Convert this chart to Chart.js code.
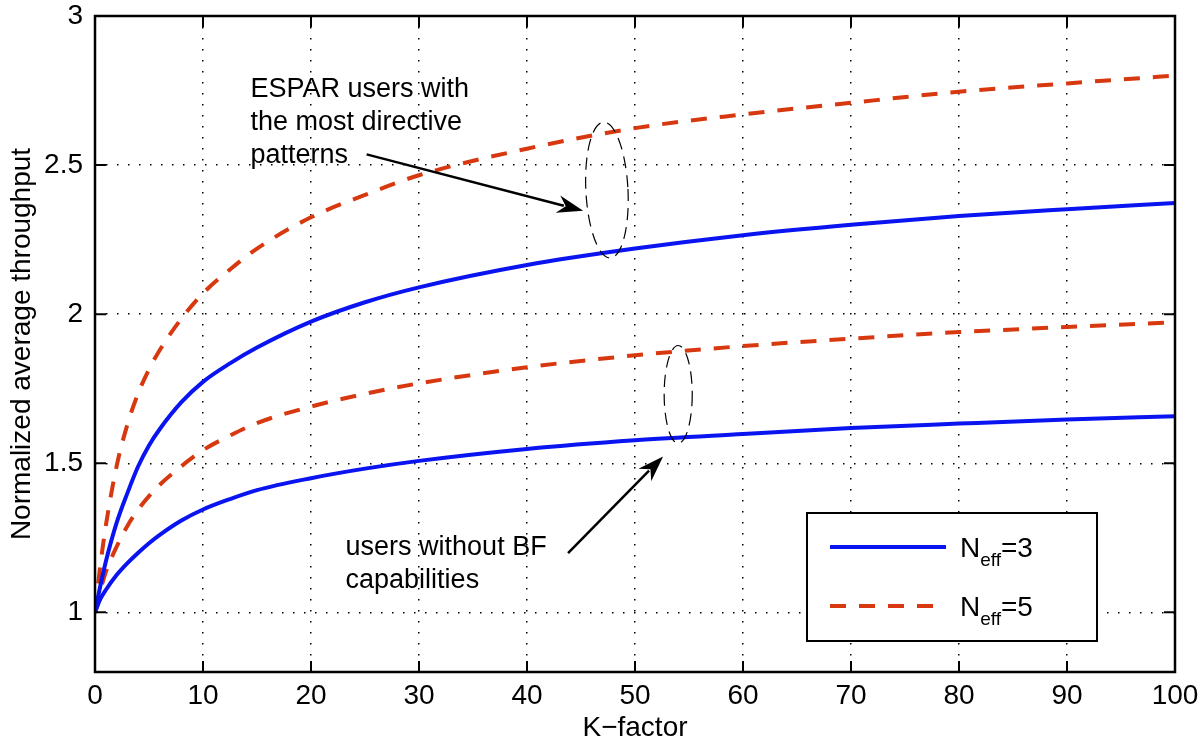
<!DOCTYPE html>
<html>
<head>
<meta charset="utf-8">
<script src="https://cdn.jsdelivr.net/npm/chart.js@4.4.0/dist/chart.umd.min.js"></script>
<style>
  html, body { margin: 0; padding: 0; background: #fff; }
  #wrap { width: 1200px; height: 747px; }
</style>
</head>
<body>
<div id="wrap"><canvas id="myChart" width="1200" height="747"></canvas></div>
<script>
// K-factor sample points (shared by all curves)
const kFactor = [0, 0.5, 1, 2, 3, 4, 5, 6, 8, 10, 12.5, 15, 20, 25, 30, 40, 50, 60, 70, 80, 90, 100];

// ESPAR users with the most directive patterns
const esparN3 = [1.0, 1.09, 1.17, 1.30, 1.40, 1.49, 1.56, 1.615, 1.705, 1.773, 1.835, 1.888, 1.975, 2.04, 2.09, 2.165, 2.22, 2.265, 2.30, 2.329, 2.352, 2.373];
const esparN5 = [1.0, 1.16, 1.29, 1.49, 1.63, 1.735, 1.815, 1.88, 1.985, 2.07, 2.15, 2.22, 2.325, 2.40, 2.466, 2.555, 2.624, 2.67, 2.709, 2.746, 2.774, 2.80];

// users without BF capabilities
const noBfN3 = [1.0, 1.045, 1.075, 1.125, 1.165, 1.20, 1.232, 1.26, 1.308, 1.345, 1.38, 1.41, 1.45, 1.482, 1.508, 1.548, 1.577, 1.598, 1.618, 1.633, 1.647, 1.658];
const noBfN5 = [1.0, 1.075, 1.135, 1.22, 1.29, 1.345, 1.39, 1.428, 1.49, 1.544, 1.593, 1.635, 1.69, 1.733, 1.768, 1.822, 1.862, 1.893, 1.918, 1.94, 1.957, 1.973];

const xTicks = [0, 10, 20, 30, 40, 50, 60, 70, 80, 90, 100];
const yTicks = [1, 1.5, 2, 2.5, 3];

const BLUE = "#0a14f0";
const RED = "#d8380f";
const FONT = "'Liberation Sans', Arial, Helvetica, sans-serif";

const toPoints = (ys) => kFactor.map((k, i) => ({ x: k, y: ys[i] }));

const solid = { borderColor: BLUE, backgroundColor: BLUE, borderWidth: 4, pointRadius: 0, fill: false, cubicInterpolationMode: "monotone" };
const dashed = { borderColor: RED, backgroundColor: RED, borderWidth: 4, borderDash: [16, 13], pointRadius: 0, fill: false, cubicInterpolationMode: "monotone" };

// annotation text and callouts, placed in data units
const esparNote = { k: 14.4, v: 2.727, lines: ["ESPAR users with", "the most directive", "patterns"] };
const noBfNote = { k: 23.2, v: 1.191, lines: ["users without BF", "capabilities"] };
const arrows = [
	{ from: [25.15, 2.536], to: [45.2, 2.347] },
	{ from: [43.8, 1.199], to: [52.6, 1.523] },
];
const ellipses = [
	{ k: 47.4, v: 2.416, rk: 1.95, rv: 0.228, rot: -0.05 },
	{ k: 54.0, v: 1.731, rk: 1.3, rv: 0.164, rot: 0 },
];
const legendItems = [
	{ color: BLUE, dash: [], sub: "eff", value: "=3" },
	{ color: RED, dash: [16, 13], sub: "eff", value: "=5" },
];

const matlabLook = {
	id: "matlabLook",
	afterDatasetsDraw(chart) {
		const { ctx, chartArea: a, scales: { x, y } } = chart;
		ctx.save();

		// inward ticks on all four sides
		ctx.strokeStyle = "#000";
		ctx.lineWidth = 2;
		ctx.beginPath();
		xTicks.forEach((t) => {
			const px = x.getPixelForValue(t);
			ctx.moveTo(px, a.bottom); ctx.lineTo(px, a.bottom - 11);
			ctx.moveTo(px, a.top); ctx.lineTo(px, a.top + 11);
		});
		yTicks.forEach((t) => {
			const py = y.getPixelForValue(t);
			ctx.moveTo(a.left, py); ctx.lineTo(a.left + 11, py);
			ctx.moveTo(a.right, py); ctx.lineTo(a.right - 11, py);
		});
		ctx.stroke();

		// axes box
		ctx.lineWidth = 2.5;
		ctx.strokeRect(a.left, a.top, a.right - a.left, a.bottom - a.top);

		// dashed ellipses
		ctx.lineWidth = 1.2;
		ctx.setLineDash([12, 7]);
		ellipses.forEach((e) => {
			const cx = x.getPixelForValue(e.k), cy = y.getPixelForValue(e.v);
			const rx = x.getPixelForValue(e.k + e.rk) - cx;
			const ry = cy - y.getPixelForValue(e.v + e.rv);
			ctx.beginPath();
			ctx.ellipse(cx, cy, rx, ry, e.rot, 0, Math.PI * 2);
			ctx.stroke();
		});
		ctx.setLineDash([]);

		// arrows
		ctx.lineWidth = 2.5;
		ctx.fillStyle = "#000";
		arrows.forEach((ar) => {
			const x0 = x.getPixelForValue(ar.from[0]), y0 = y.getPixelForValue(ar.from[1]);
			const x1 = x.getPixelForValue(ar.to[0]), y1 = y.getPixelForValue(ar.to[1]);
			const ang = Math.atan2(y1 - y0, x1 - x0);
			const len = 26, half = 9;
			const bx = x1 - len * Math.cos(ang), by = y1 - len * Math.sin(ang);
			ctx.beginPath();
			ctx.moveTo(x0, y0);
			ctx.lineTo(bx + 6 * Math.cos(ang), by + 6 * Math.sin(ang));
			ctx.stroke();
			ctx.beginPath();
			ctx.moveTo(x1, y1);
			ctx.lineTo(bx - half * Math.sin(ang), by + half * Math.cos(ang));
			ctx.lineTo(bx + 8 * Math.cos(ang), by + 8 * Math.sin(ang));
			ctx.lineTo(bx + half * Math.sin(ang), by - half * Math.cos(ang));
			ctx.closePath();
			ctx.fill();
		});

		// annotation text
		ctx.font = "27px " + FONT;
		ctx.textAlign = "left";
		ctx.textBaseline = "alphabetic";
		[esparNote, noBfNote].forEach((n) => {
			const px = x.getPixelForValue(n.k), py = y.getPixelForValue(n.v);
			n.lines.forEach((s, i) => ctx.fillText(s, px, py + i * 33));
		});

		// legend box
		const lx = a.right - 368, ly = a.bottom - 159, lw = 290, lh = 128;
		ctx.fillStyle = "#fff";
		ctx.fillRect(lx, ly, lw, lh);
		ctx.strokeStyle = "#000";
		ctx.lineWidth = 2;
		ctx.strokeRect(lx, ly, lw, lh);
		legendItems.forEach((it, i) => {
			const rowY = ly + 34 + i * 59;
			ctx.strokeStyle = it.color;
			ctx.lineWidth = 4;
			ctx.setLineDash(it.dash);
			ctx.beginPath();
			ctx.moveTo(lx + 23, rowY);
			ctx.lineTo(lx + 139, rowY);
			ctx.stroke();
			ctx.setLineDash([]);
			ctx.fillStyle = "#000";
			ctx.font = "28px " + FONT;
			let tx = lx + 153;
			ctx.fillText("N", tx, rowY + 10);
			tx += ctx.measureText("N").width;
			ctx.font = "19px " + FONT;
			ctx.fillText(it.sub, tx, rowY + 19);
			tx += ctx.measureText(it.sub).width;
			ctx.font = "28px " + FONT;
			ctx.fillText(it.value, tx, rowY + 10);
		});

		ctx.restore();
	},
};

const ctx = document.getElementById("myChart").getContext("2d");
const myChart = new Chart(ctx, {
	type: "line",
	data: {
		datasets: [
			{ label: "Neff=3 ESPAR", data: toPoints(esparN3), ...solid },
			{ label: "Neff=5 ESPAR", data: toPoints(esparN5), ...dashed },
			{ label: "Neff=3 no BF", data: toPoints(noBfN3), ...solid },
			{ label: "Neff=5 no BF", data: toPoints(noBfN5), ...dashed },
		],
	},
	options: {
		responsive: false,
		animation: false,
		devicePixelRatio: 1,
		layout: { padding: { top: 16, right: 25, left: 0, bottom: 0 } },
		plugins: { legend: { display: false }, tooltip: { enabled: false } },
		scales: {
			x: {
				type: "linear",
				min: 0,
				max: 100,
				afterBuildTicks: (s) => { s.ticks = xTicks.map((v) => ({ value: v })); },
				afterFit: (s) => { s.height = 75; s.paddingLeft = 0; s.paddingRight = 0; },
				grid: { color: "#000", lineWidth: 1.5, drawTicks: false },
				border: { display: false, dash: [1.5, 9.5] },
				ticks: { color: "#000", font: { family: FONT, size: 28 }, padding: 7, maxRotation: 0 },
				title: { display: true, text: "K−factor", color: "#000", font: { family: FONT, size: 28 }, padding: { top: 0, bottom: 2 } },
			},
			y: {
				type: "linear",
				min: 0.8,
				max: 3,
				afterBuildTicks: (s) => { s.ticks = yTicks.map((v) => ({ value: v })); },
				afterFit: (s) => { s.width = 95; s.paddingTop = 0; s.paddingBottom = 0; },
				grid: { color: "#000", lineWidth: 1.5, drawTicks: false },
				border: { display: false, dash: [1.5, 9.5] },
				ticks: { color: "#000", font: { family: FONT, size: 28 }, padding: 12, callback: (v) => String(v) },
				title: { display: true, text: "Normalized average throughput", color: "#000", font: { family: FONT, size: 28 }, padding: { top: 5, bottom: 0 } },
			},
		},
	},
	plugins: [matlabLook],
});
</script>
</body>
</html>
